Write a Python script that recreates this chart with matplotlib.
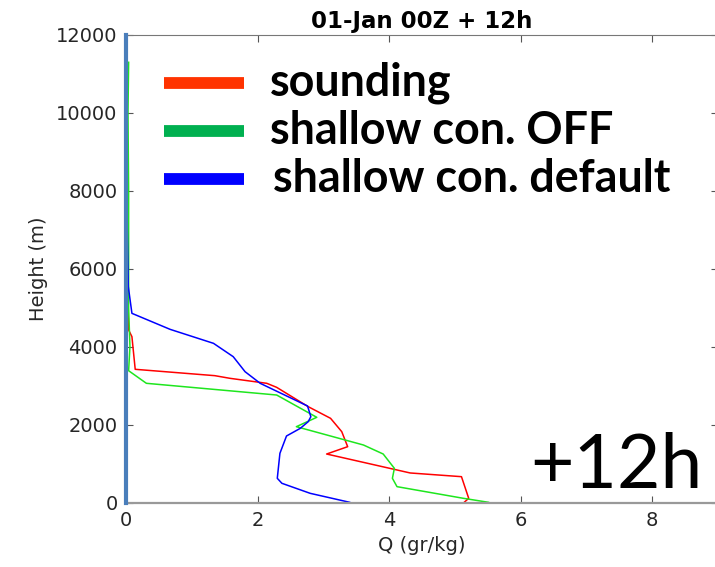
import matplotlib
matplotlib.use("Agg")
import matplotlib.pyplot as plt
from matplotlib.lines import Line2D

# Specific humidity profiles (Q in gr/kg, height in m)
sounding_h = [0, 120, 675, 770, 1256, 1444, 1829, 2171, 2470, 2966, 3069, 3197,
              3265, 3428, 4265, 4436, 5000, 6000, 7000, 8300]
sounding_q = [5.13, 5.21, 5.10, 4.32, 3.05, 3.37, 3.28, 3.11, 2.77, 2.29, 2.14, 1.58,
              1.35, 0.14, 0.09, 0.04, 0.03, 0.02, 0.02, 0.01]

off_h = [18, 120, 419, 633, 889, 1256, 1487, 1957, 2197, 2769, 3069, 3392,
         4009, 5000, 6000, 8000, 10000, 11300]
off_q = [5.51, 5.13, 4.12, 4.05, 4.08, 3.91, 3.61, 2.59, 2.90, 2.29, 0.31, 0.04,
         0.06, 0.04, 0.04, 0.04, 0.03, 0.04]

default_h = [18, 248, 505, 633, 1274, 1718, 1915, 2085, 2213, 2487, 3069, 3367,
             3752, 4094, 4453, 4863, 5547, 7000, 9000, 11300]
default_q = [3.40, 2.80, 2.37, 2.30, 2.34, 2.44, 2.65, 2.77, 2.81, 2.76, 2.04, 1.81,
             1.63, 1.33, 0.67, 0.09, 0.035, 0.02, 0.01, 0.01]

labels = ["sounding", "shallow con. OFF", "shallow con. default"]
legend_colors = ["#ff3300", "#00b050", "#0000ff"]
line_colors = ["#ff0000", "#1ee61e", "#0000ff"]

x_ticks = [0, 2, 4, 6, 8]
y_ticks = [0, 2000, 4000, 6000, 8000, 10000, 12000]

W, H = 715, 567
fig = plt.figure(figsize=(W / 100, H / 100), dpi=100)
ax = fig.add_axes([126 / W, (H - 503) / H, (718 - 126) / W, (503 - 35) / H])

ax.plot(sounding_q, sounding_h, color=line_colors[0], lw=1.1)
ax.plot(off_q, off_h, color=line_colors[1], lw=1.1)
ax.plot(default_q, default_h, color=line_colors[2], lw=1.1)
ax.axvline(0, color="#4a7ebb", lw=3.0, zorder=5, clip_on=False)

ax.set_xlim(0, 9)
ax.set_ylim(0, 12000)
ax.set_xticks(x_ticks)
ax.set_yticks(y_ticks)
ax.tick_params(direction="in", length=5, width=0.8, color="#555555",
               labelsize=14, labelcolor="#262626", top=True, right=True, pad=6)
for s in ["top", "right"]:
    ax.spines[s].set_color("#777777")
    ax.spines[s].set_linewidth(0.8)
ax.spines["bottom"].set_color("#999999")
ax.spines["bottom"].set_linewidth(1.6)
ax.spines["left"].set_visible(False)

ax.set_xlabel("Q (gr/kg)", fontsize=14, color="#262626", labelpad=4)
ax.set_ylabel("Height (m)", fontsize=14, color="#262626", labelpad=6)
ax.set_title("01-Jan 00Z + 12h", fontsize=16.5, fontweight="bold", pad=5)

# Large annotation legend
rows_y = [82.5, 130.5, 179]
text_x = [270, 270, 273]
for y, c, lab, tx in zip(rows_y, legend_colors, labels, text_x):
    fig.add_artist(Line2D([164 / W, 244 / W], [1 - y / H, 1 - y / H],
                          transform=fig.transFigure, color=c, lw=8.5,
                          solid_capstyle="butt"))
    fig.text(tx / W, 1 - y / H, lab, fontsize=32.3, fontweight="bold",
             family="Lato", va="center", ha="left", color="black")

fig.text(703 / W, 1 - 488 / H, "+12h", fontsize=54, family="Lato",
         ha="right", va="baseline", color="black")

fig.savefig("out.png", dpi=100)
